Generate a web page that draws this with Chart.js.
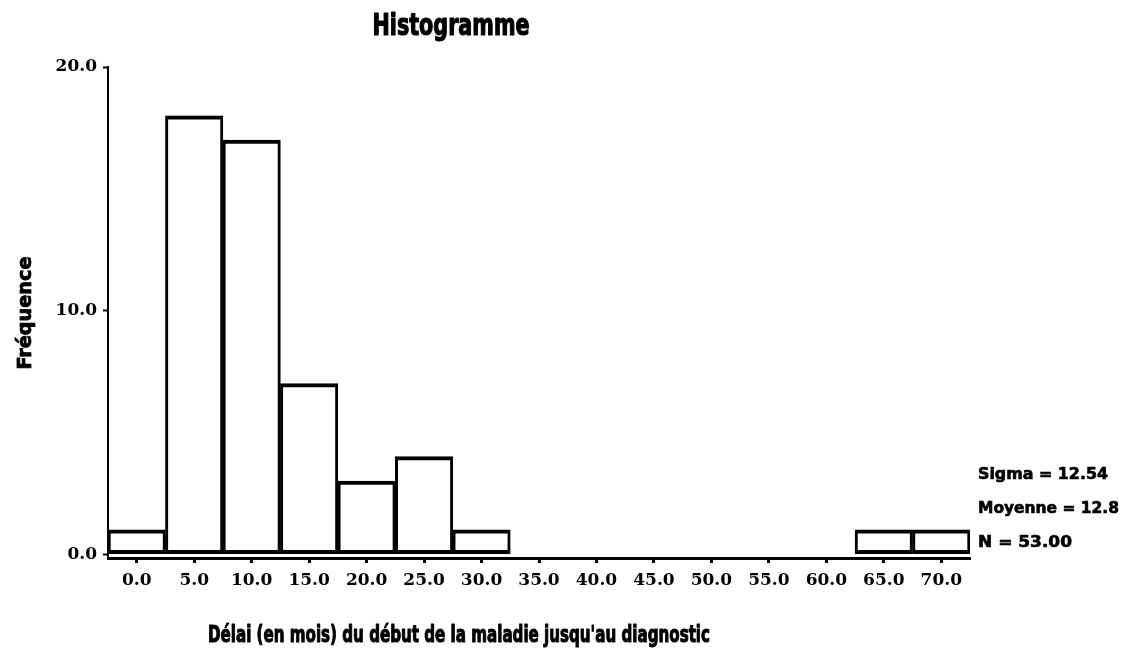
<!DOCTYPE html>
<html>
<head>
<meta charset="utf-8">
<script src="https://cdn.jsdelivr.net/npm/chart.js@4"></script>
<style>
  html, body { margin: 0; padding: 0; background: #fff; }
  #wrap { width: 1125px; height: 657px; }
</style>
</head>
<body>
<div id="wrap"><canvas id="histo" width="1125" height="657"></canvas></div>
<script>
// Class midpoints (months) and counts per class
const binLabels = ['0.0', '5.0', '10.0', '15.0', '20.0', '25.0', '30.0', '35.0',
                   '40.0', '45.0', '50.0', '55.0', '60.0', '65.0', '70.0'];
const frequencies = [1, 18, 17, 7, 3, 4, 1, 0, 0, 0, 0, 0, 0, 1, 1];
const yTickValues = [0, 10, 20];

const chartTitle = 'Histogramme';
const xAxisTitle = "Délai (en mois) du début de la maladie jusqu'au diagnostic";
const yAxisTitle = 'Fréquence';
const statLines = ['Sigma = 12.54', 'Moyenne = 12.8', 'N = 53.00'];

const condensedFont = '"DejaVu Sans Condensed", "DejaVu Sans", sans-serif';
const serifFont = '"DejaVu Serif", "Liberation Serif", serif';

// Draw heavy condensed text squeezed horizontally to a given width
function drawSqueezed(ctx, text, x, y, size, width, align, rotated, heavy) {
  ctx.save();
  ctx.font = 'bold ' + size + 'px ' + condensedFont;
  const natural = ctx.measureText(text).width;
  const sx = width / natural;
  ctx.translate(x, y);
  if (rotated) ctx.rotate(-Math.PI / 2);
  ctx.scale(sx, 1);
  ctx.fillStyle = '#000';
  ctx.strokeStyle = '#000';
  ctx.lineWidth = heavy;
  ctx.lineJoin = 'round';
  ctx.textAlign = align;
  ctx.textBaseline = 'alphabetic';
  ctx.fillText(text, 0, 0);
  if (heavy > 0) ctx.strokeText(text, 0, 0);
  ctx.restore();
}

const textLayer = {
  id: 'textLayer',
  afterDraw(chart) {
    const ctx = chart.ctx;
    drawSqueezed(ctx, chartTitle, 451, 35, 30, 157, 'center', false, 1.2);
    drawSqueezed(ctx, xAxisTitle, 459, 642, 23, 502, 'center', false, 1.0);
    drawSqueezed(ctx, yAxisTitle, 31, 313, 20, 113, 'center', true, 0.8);
    const statWidths = [130, 141, 94];
    const statBase = [479, 513, 547];
    statLines.forEach((s, i) => {
      drawSqueezed(ctx, s, 978, statBase[i], 16, statWidths[i], 'left', false, 0.6);
    });
  }
};

new Chart(document.getElementById('histo'), {
  type: 'bar',
  data: {
    labels: binLabels,
    datasets: [{
      data: frequencies,
      backgroundColor: '#ffffff',
      borderColor: '#000000',
      borderWidth: { top: 4, bottom: 4, left: 3, right: 3 },
      borderSkipped: false,
      categoryPercentage: 1.0,
      barPercentage: 1.0
    }]
  },
  options: {
    responsive: false,
    animation: false,
    devicePixelRatio: 1,
    layout: { padding: { top: 67, right: 155, left: 0, bottom: 0 } },
    plugins: {
      legend: { display: false },
      title: { display: false },
      tooltip: { enabled: false }
    },
    scales: {
      x: {
        offset: true,
        grid: {
          offset: false,
          drawOnChartArea: false,
          drawTicks: true,
          tickLength: 5,
          tickWidth: 3,
          tickColor: '#000'
        },
        border: { display: true, color: '#000', width: 3 },
        ticks: {
          color: '#000',
          padding: 7,
          maxRotation: 0,
          autoSkip: false,
          font: { family: serifFont, weight: 'bold', size: 17 }
        },
        afterFit(scale) { scale.height = 99; }
      },
      y: {
        min: -0.16,
        max: 20,
        afterBuildTicks(scale) {
          scale.ticks = yTickValues.map(v => ({ value: v }));
        },
        grid: {
          drawOnChartArea: false,
          drawTicks: true,
          tickLength: 5,
          tickWidth: 2,
          tickColor: '#000'
        },
        border: { display: true, color: '#000', width: 2 },
        ticks: {
          color: '#000',
          padding: 6,
          font: { family: serifFont, weight: 'bold', size: 17 },
          callback: v => Number(v).toFixed(1)
        },
        afterFit(scale) { scale.width = 108; }
      }
    }
  },
  plugins: [textLayer]
});
</script>
</body>
</html>
